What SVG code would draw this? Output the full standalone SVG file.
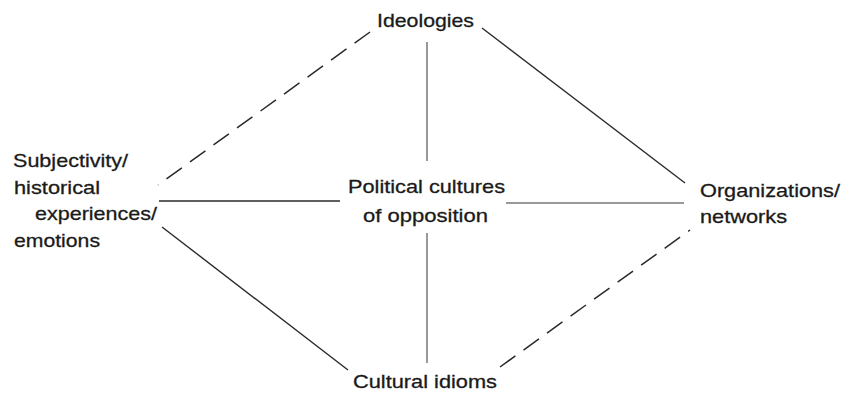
<svg xmlns="http://www.w3.org/2000/svg" width="841" height="393" viewBox="0 0 841 393">
<style>
text{font-family:"Liberation Sans",Arial,sans-serif;font-size:19px;fill:#1a1a1a;stroke:#1a1a1a;stroke-width:0.3}
.s{stroke:#2a2a2a;stroke-width:1.4;fill:none}
.g{stroke:#777;stroke-width:1.5;fill:none}
.d{stroke:#2a2a2a;stroke-width:1.5;fill:none;stroke-dasharray:19 10}
</style>
<rect width="841" height="393" fill="#fff"/>
<g id="connectors">
<line class="d" x1="370" y1="32" x2="158" y2="185"/>
<line class="s" x1="482" y1="28" x2="685" y2="183"/>
<line class="g" x1="427" y1="42" x2="427" y2="161"/>
<line class="g" x1="427" y1="233" x2="427" y2="363"/>
<line class="s" x1="159" y1="201" x2="340" y2="201"/>
<line class="g" x1="506" y1="203" x2="684" y2="203"/>
<line class="s" x1="162" y1="227" x2="348" y2="370"/>
<line class="d" x1="500" y1="367" x2="690" y2="230"/>
</g>
<g id="ideologies"><text x="377" y="27" textLength="97" lengthAdjust="spacingAndGlyphs">Ideologies</text></g>
<g id="subjectivity">
<text x="13" y="167" textLength="115" lengthAdjust="spacingAndGlyphs">Subjectivity/</text>
<text x="14" y="194" textLength="86" lengthAdjust="spacingAndGlyphs">historical</text>
<text x="35" y="220" textLength="122" lengthAdjust="spacingAndGlyphs">experiences/</text>
<text x="14" y="247" textLength="86" lengthAdjust="spacingAndGlyphs">emotions</text>
</g>
<g id="political-cultures">
<text x="348" y="193" textLength="157" lengthAdjust="spacingAndGlyphs">Political cultures</text>
<text x="363" y="222" textLength="125" lengthAdjust="spacingAndGlyphs">of opposition</text>
</g>
<g id="organizations">
<text x="700" y="197" textLength="140" lengthAdjust="spacingAndGlyphs">Organizations/</text>
<text x="700" y="223" textLength="87" lengthAdjust="spacingAndGlyphs">networks</text>
</g>
<g id="cultural-idioms"><text x="353" y="388" textLength="144" lengthAdjust="spacingAndGlyphs">Cultural idioms</text></g>
</svg>
